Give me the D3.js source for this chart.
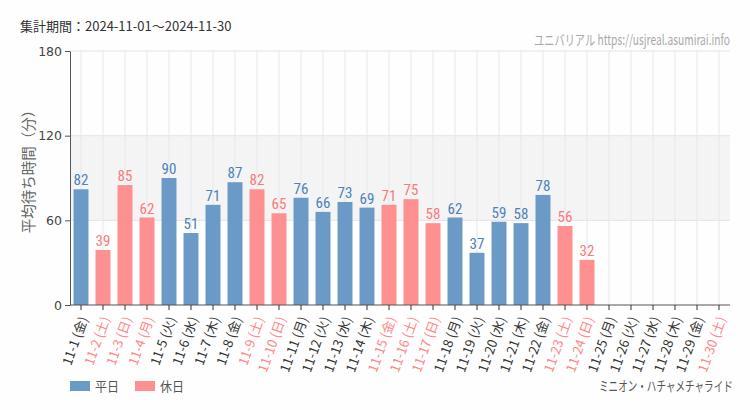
<!DOCTYPE html>
<html><head><meta charset="utf-8">
<script src="https://cdn.jsdelivr.net/npm/d3@7"></script>
<style>body{margin:0;background:#fdfefd;}svg{display:block;}</style>
</head><body><svg id="c" width="750" height="410"></svg>
<script>
const days = ["11-1","11-2","11-3","11-4","11-5","11-6","11-7","11-8","11-9","11-10","11-11","11-12","11-13","11-14","11-15","11-16","11-17","11-18","11-19","11-20","11-21","11-22","11-23","11-24","11-25","11-26","11-27","11-28","11-29","11-30"];
const weekdays = ["金","土","日","月","火","水","木","金","土","日","月","火","水","木","金","土","日","月","火","水","木","金","土","日","月","火","水","木","金","土"];
const holiday = [0,1,1,1,0,0,0,0,1,1,0,0,0,0,1,1,1,0,0,0,0,0,1,1,0,0,0,0,0,1];
const values = [82,39,85,62,90,51,71,87,82,65,76,66,73,69,71,75,58,62,37,59,58,78,56,32,null,null,null,null,null,null];
const yTicks = [0,60,120,180];
const legendItems = ["平日","休日"];

const svg = d3.select("#c");
const L=70,R=730,T=51,B=305;
const x = d3.scaleBand().domain(days).range([L,R]).paddingInner(0.32).paddingOuter(0.16);
const y = d3.scaleLinear().domain([0,180]).range([B,T]);
const blue="#6b9ac6", pink="#ff9092", blueT="#4f82b8", pinkT="#f77b7e";
const cond = "'Liberation Sans Narrow','Roboto Condensed','Arial Narrow',sans-serif";
const jp = "'Noto Sans CJK JP',sans-serif";

// condensed text helper: right/left edge anchored, horizontally squeezed to a width
function squeezed(txt, ax, by, width, anchor, size, color){
  const g = svg.append("g");
  const t = g.append("text").attr("font-family",jp).attr("font-size",size).attr("fill",color).text(txt);
  const w = t.node().getComputedTextLength();
  const s = width / w;
  const x0 = anchor==="end" ? ax - width : ax;
  g.attr("transform",`translate(${x0},${by}) scale(${s},1)`);
  return g;
}

// band
svg.append("rect").attr("x",L).attr("width",R-L).attr("y",y(120)).attr("height",y(60)-y(120)).attr("fill","#f4f4f4");
// grid
svg.append("g").selectAll("line").data(yTicks.slice(1)).join("line")
  .attr("x1",L).attr("x2",R).attr("y1",d=>y(d)).attr("y2",d=>y(d)).attr("stroke","#e4e4e4");
svg.append("g").selectAll("line").data(days).join("line")
  .attr("x1",d=>x(d)+x.bandwidth()/2).attr("x2",d=>x(d)+x.bandwidth()/2)
  .attr("y1",T).attr("y2",B).attr("stroke","#e8e8e8");

// bars
const data = days.map((d,i)=>({d,v:values[i],h:holiday[i],w:weekdays[i]}));
svg.append("g").selectAll("rect").data(data.filter(o=>o.v!=null)).join("rect")
  .attr("x",o=>x(o.d)).attr("width",x.bandwidth()).attr("y",o=>y(o.v)).attr("height",o=>B-y(o.v))
  .attr("fill",o=>o.h?pink:blue);
svg.append("g").selectAll("text").data(data.filter(o=>o.v!=null)).join("text")
  .attr("x",o=>x(o.d)+x.bandwidth()/2).attr("y",o=>y(o.v)-4).attr("text-anchor","middle")
  .attr("font-family",cond).attr("font-size",15).attr("fill",o=>o.h?pinkT:blueT).text(o=>o.v);

// y axis
const ya = svg.append("g").attr("transform",`translate(${L},0)`).call(d3.axisLeft(y).tickValues(yTicks).tickSize(5).tickSizeOuter(0));
ya.select(".domain").attr("stroke","#555");
ya.selectAll(".tick line").attr("stroke","#555");
ya.selectAll("text").attr("font-family","'DejaVu Sans',sans-serif").attr("font-size",12.5).attr("fill","#444");

// x axis
const xa = svg.append("g").attr("transform",`translate(0,${B})`).call(d3.axisBottom(x).tickSize(5).tickSizeOuter(0));
xa.select(".domain").attr("stroke","#555").attr("d",`M${L},0H${R}`);
xa.selectAll(".tick line").attr("stroke","#333");
xa.selectAll("text").remove();
xa.selectAll(".tick").append("text")
  .attr("transform","translate(3,12) rotate(-70)")
  .attr("text-anchor","end").attr("dy","0.35em")
  .attr("font-family",jp).attr("font-size",13)
  .attr("fill",(d,i)=>holiday[i]?"#ff8588":"#333")
  .text((d,i)=>`${d} (${weekdays[i]})`);

// titles
svg.append("text").attr("x",20).attr("y",31).attr("font-family",jp).attr("font-size",13).attr("fill","#333")
  .text("集計期間：2024-11-01～2024-11-30");
squeezed("ユニバリアル  https://usjreal.asumirai.info", 730, 45, 196, "end", 14, "#aaa");
svg.append("text").attr("transform","translate(34,168) rotate(-90)").attr("text-anchor","middle")
  .attr("font-family",jp).attr("font-size",14.5).attr("fill","#666").text("平均待ち時間（分）");

// legend
legendItems.forEach((t,i)=>{
  const lx = 70 + i*65, c = i?pink:blue;
  svg.append("rect").attr("x",lx).attr("y",381).attr("width",20).attr("height",10).attr("fill",c);
  squeezed(t, lx+25, 391, 24, "start", 13, "#555");
});
squeezed("ミニオン・ハチャメチャライド", 733, 391, 134, "end", 13.5, "#555");
</script></body></html>
